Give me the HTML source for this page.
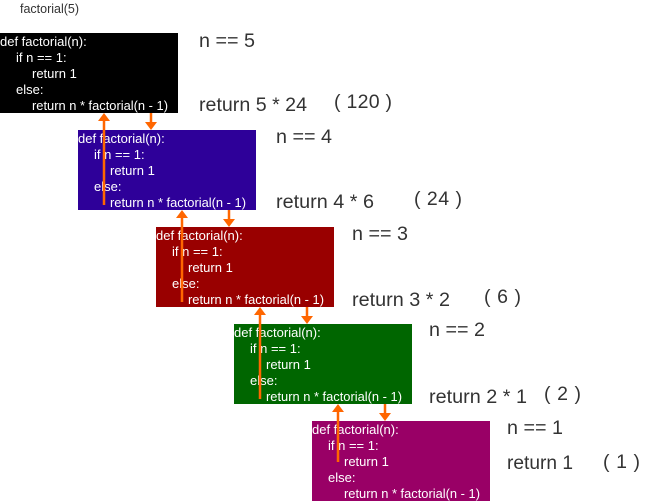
<!DOCTYPE html>
<html><head><meta charset="utf-8"><style>
body{margin:0;background:#fff;width:647px;height:501px;overflow:hidden}
svg{display:block;font-family:"Liberation Sans","Noto Sans CJK SC",sans-serif}
.c{fill:#fff;font-size:13px}
.l{fill:#333;font-size:19.5px}
</style></head><body>
<svg width="647" height="501" viewBox="0 0 647 501">
<defs>
<g id="code">
<text class="c" x="0" y="13">def factorial(n):</text>
<text class="c" x="16" y="29">if n == 1:</text>
<text class="c" x="32" y="45">return 1</text>
<text class="c" x="16" y="61">else:</text>
<text class="c" x="32" y="77" textLength="136" lengthAdjust="spacingAndGlyphs">return n * factorial(n - 1)</text>
</g>
</defs>
<text x="20" y="13" style="font-size:12.5px;fill:#333">factorial(5)</text>

<rect x="0" y="33" width="178" height="80" fill="#000"/>
<use href="#code" x="0" y="33"/>
<rect x="78" y="130" width="178" height="80" fill="#2e0099"/>
<use href="#code" x="78" y="130"/>
<rect x="156" y="227" width="178" height="80" fill="#990000"/>
<use href="#code" x="156" y="227"/>
<rect x="234" y="324" width="178" height="80" fill="#006600"/>
<use href="#code" x="234" y="324"/>
<rect x="312" y="421" width="178" height="80" fill="#990066"/>
<use href="#code" x="312" y="421"/>

<g stroke="#ff6600" stroke-width="2.5" fill="none">
<line x1="104" y1="205" x2="104" y2="118"/>
<line x1="182" y1="302" x2="182" y2="215"/>
<line x1="260" y1="399" x2="260" y2="312"/>
<line x1="338" y1="462" x2="338" y2="409"/>
<line x1="151" y1="113" x2="151" y2="124"/>
<line x1="229" y1="210" x2="229" y2="221"/>
<line x1="307" y1="307" x2="307" y2="318"/>
<line x1="385" y1="404" x2="385" y2="415"/>
</g>
<g fill="#ff6600">
<polygon points="98,121 104,113 110,121"/>
<polygon points="176,218 182,210 188,218"/>
<polygon points="254,315 260,307 266,315"/>
<polygon points="332,412 338,404 344,412"/>
<polygon points="145,122 151,130 157,122"/>
<polygon points="223,219 229,227 235,219"/>
<polygon points="301,316 307,324 313,316"/>
<polygon points="379,413 385,421 391,413"/>
</g>

<text class="l" x="199" y="47" textLength="56" lengthAdjust="spacingAndGlyphs">n == 5</text>
<text class="l" x="199" y="111" textLength="108" lengthAdjust="spacingAndGlyphs">return 5 * 24</text>
<text class="l" x="334" y="108" textLength="58" lengthAdjust="spacing">( 120 )</text>
<text class="l" x="276" y="143" textLength="56" lengthAdjust="spacingAndGlyphs">n == 4</text>
<text class="l" x="276" y="208" textLength="98" lengthAdjust="spacingAndGlyphs">return 4 * 6</text>
<text class="l" x="414" y="205" textLength="48" lengthAdjust="spacing">( 24 )</text>
<text class="l" x="352" y="240" textLength="56" lengthAdjust="spacingAndGlyphs">n == 3</text>
<text class="l" x="352" y="306" textLength="98" lengthAdjust="spacingAndGlyphs">return 3 * 2</text>
<text class="l" x="484" y="303" textLength="37" lengthAdjust="spacing">( 6 )</text>
<text class="l" x="429" y="336" textLength="56" lengthAdjust="spacingAndGlyphs">n == 2</text>
<text class="l" x="429" y="403" textLength="98" lengthAdjust="spacingAndGlyphs">return 2 * 1</text>
<text class="l" x="544" y="400" textLength="37" lengthAdjust="spacing">( 2 )</text>
<text class="l" x="507" y="434" textLength="56" lengthAdjust="spacingAndGlyphs">n == 1</text>
<text class="l" x="507" y="469" textLength="66" lengthAdjust="spacingAndGlyphs">return 1</text>
<text class="l" x="603" y="468" textLength="37" lengthAdjust="spacing">( 1 )</text>
</svg>
</body></html>
